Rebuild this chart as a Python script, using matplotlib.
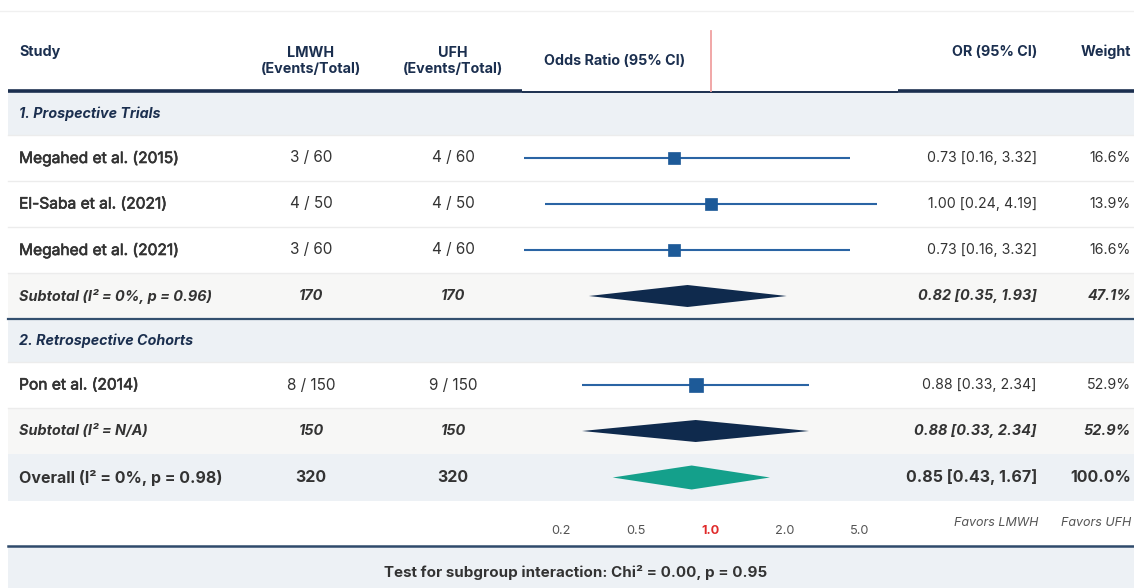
import matplotlib
matplotlib.use("Agg")
import matplotlib.pyplot as plt
import matplotlib.transforms as mtransforms
import matplotlib.patheffects as pe
from matplotlib.patches import Rectangle

plt.rcParams['font.family'] = ['Inter', 'DejaVu Sans']

# ---------------- data ----------------
group_labels = ["1. Prospective Trials", "2. Retrospective Cohorts"]
studies = ["Megahed et al. (2015)", "El-Saba et al. (2021)", "Megahed et al. (2021)", "Pon et al. (2014)"]
study_group = [0, 0, 0, 1]
lmwh_events = [3, 4, 3, 8]
lmwh_total = [60, 50, 60, 150]
ufh_events = [4, 4, 4, 9]
ufh_total = [60, 50, 60, 150]
or_est = [0.73, 1.00, 0.73, 0.88]
ci_lo = [0.16, 0.24, 0.16, 0.33]
ci_hi = [3.32, 4.19, 3.32, 2.34]
weights = [16.6, 13.9, 16.6, 52.9]

sub_labels = ["Subtotal (I\u00b2 = 0%, p = 0.96)", "Subtotal (I\u00b2 = N/A)"]
sub_n_lmwh = [170, 150]
sub_n_ufh = [170, 150]
sub_or = [0.82, 0.88]
sub_lo = [0.35, 0.33]
sub_hi = [1.93, 2.34]
sub_weight = [47.1, 52.9]

overall_label = "Overall (I\u00b2 = 0%, p = 0.98)"
overall_n_lmwh = 320
overall_n_ufh = 320
overall_or = 0.85
overall_lo = 0.43
overall_hi = 1.67
overall_weight = 100.0

tick_values = [0.2, 0.5, 1.0, 2.0, 5.0]
tick_labels = ["0.2", "0.5", "1.0", "2.0", "5.0"]
favors_left = "Favors LMWH"
favors_right = "Favors UFH"
footer_text = "Test for subgroup interaction: Chi\u00b2 = 0.00, p = 0.95"

# ---------------- style ----------------
W, H = 1134, 588
NAVY = "#1b2f4f"
TEXT = "#333333"
SECTION_BG = "#edf1f5"
SUB_BG = "#f7f7f6"
SEP = "#ececec"
BLUE_LINE = "#2a64a4"
BLUE_SQ = "#1d5a98"
DIAMOND = "#0f2a4d"
TEAL = "#14a08b"
RED = "#e02a2a"

fig = plt.figure(figsize=(W / 100, H / 100), dpi=100)
tab = fig.add_axes([0, 0, 1, 1])
tab.set_xlim(0, W)
tab.set_ylim(H, 0)
tab.axis('off')

PLOT_L, PLOT_R = 524, 897
fa = fig.add_axes([PLOT_L / W, 0, (PLOT_R - PLOT_L) / W, 1])
fa.set_xscale('log')
fa.set_xlim(tick_values[0], tick_values[-1])
fa.set_ylim(H, 0)
fa.axis('off')
fa.patch.set_alpha(0)

X_LEFT = 8
X_STUDY = 19
X_LMWH = 311
X_UFH = 453
X_OR = 1037
X_W = 1131
FS_NAME = 11.2
FS_NUM = 10.2
medium = [pe.withStroke(linewidth=0.45, foreground=TEXT)]

# ---------------- build rows ----------------
rows = []
for g, glabel in enumerate(group_labels):
    rows.append(("section", g))
    for i in range(len(studies)):
        if study_group[i] == g:
            rows.append(("study", i))
    rows.append(("subtotal", g))
rows.append(("overall", None))

heights = {"section": 43, "study": 46, "subtotal": 46, "overall": 47}
y = 92
layout = []
for kind, idx in rows:
    h = heights[kind]
    layout.append((kind, idx, y, y + h))
    y += h

# header
tab.plot([0, W], [11, 11], color="#f0f0f0", lw=1)
hdr_kw = dict(color=NAVY, fontsize=10.3, fontweight='bold', va='center')
tab.text(X_STUDY, 52, "Study", ha='left', **hdr_kw)
tab.text(X_LMWH, 61, "LMWH\n(Events/Total)", ha='center', linespacing=1.2, **hdr_kw)
tab.text(X_UFH, 61, "UFH\n(Events/Total)", ha='center', linespacing=1.2, **hdr_kw)
tab.text(544, 61, "Odds Ratio (95% CI)", ha='left', **hdr_kw)
tab.text(X_OR, 52, "OR (95% CI)", ha='right', **hdr_kw)
tab.text(X_W, 52, "Weight", ha='right', **hdr_kw)
fa.plot([1.0, 1.0], [31, 91], color="#f0a0a0", lw=1.3, clip_on=False)

for kind, idx, y0, y1 in layout:
    yc = (y0 + y1) / 2
    if kind == "section":
        tab.add_patch(Rectangle((X_LEFT, y0), W - X_LEFT, y1 - y0, color=SECTION_BG, lw=0, zorder=0))
        tab.text(X_STUDY, yc, group_labels[idx], ha='left', va='center', color=NAVY,
                 fontsize=10.3, fontweight='bold', style='italic')
    elif kind == "study":
        i = idx
        tab.text(X_STUDY, yc, studies[i], ha='left', va='center', color=TEXT, fontsize=FS_NAME,
                 path_effects=medium)
        tab.text(X_LMWH, yc, f"{lmwh_events[i]} / {lmwh_total[i]}", ha='center', va='center', color=TEXT, fontsize=11)
        tab.text(X_UFH, yc, f"{ufh_events[i]} / {ufh_total[i]}", ha='center', va='center', color=TEXT, fontsize=11)
        tab.text(X_OR, yc, f"{or_est[i]:.2f} [{ci_lo[i]:.2f}, {ci_hi[i]:.2f}]", ha='right', va='center', color=TEXT, fontsize=FS_NUM)
        tab.text(X_W, yc, f"{weights[i]:.1f}%", ha='right', va='center', color=TEXT, fontsize=FS_NUM)
        fa.plot([ci_lo[i], ci_hi[i]], [yc, yc], color=BLUE_LINE, lw=1.5, solid_capstyle='butt', zorder=3)
        msize = (10.5 + 0.085 * weights[i]) * 0.72
        fa.plot([or_est[i]], [yc], marker='s', ms=msize, color=BLUE_SQ, mec=BLUE_SQ, mew=0.5, zorder=4)
    elif kind == "subtotal":
        g = idx
        tab.add_patch(Rectangle((X_LEFT, y0), W - X_LEFT, y1 - y0, color=SUB_BG, lw=0, zorder=0))
        kw = dict(va='center', color=TEXT, fontsize=10.4, fontweight='bold', style='italic')
        tab.text(X_STUDY, yc, sub_labels[g], ha='left', **kw)
        tab.text(X_LMWH, yc, f"{sub_n_lmwh[g]}", ha='center', **kw)
        tab.text(X_UFH, yc, f"{sub_n_ufh[g]}", ha='center', **kw)
        tab.text(X_OR, yc, f"{sub_or[g]:.2f} [{sub_lo[g]:.2f}, {sub_hi[g]:.2f}]", ha='right', **kw)
        tab.text(X_W, yc, f"{sub_weight[g]:.1f}%", ha='right', **kw)
        hh = 11
        fa.fill([sub_lo[g], sub_or[g], sub_hi[g], sub_or[g]], [yc, yc - hh, yc, yc + hh],
                color=DIAMOND, lw=0, zorder=4)
    else:
        tab.add_patch(Rectangle((X_LEFT, y0), W - X_LEFT, y1 - y0, color=SECTION_BG, lw=0, zorder=0))
        kw = dict(va='center', color=TEXT, fontsize=11.5, fontweight='bold')
        tab.text(X_STUDY, yc, overall_label, ha='left', **kw)
        tab.text(X_LMWH, yc, f"{overall_n_lmwh}", ha='center', **kw)
        tab.text(X_UFH, yc, f"{overall_n_ufh}", ha='center', **kw)
        tab.text(X_OR, yc, f"{overall_or:.2f} [{overall_lo:.2f}, {overall_hi:.2f}]", ha='right', **kw)
        tab.text(X_W, yc, f"{overall_weight:.1f}%", ha='right', **kw)
        hh = 12
        fa.fill([overall_lo, overall_or, overall_hi, overall_or], [yc, yc - hh, yc, yc + hh],
                color=TEAL, lw=0, zorder=4)

# separators
for kind, idx, y0, y1 in layout:
    if kind in ("study", "section"):
        tab.plot([X_LEFT, W], [y1, y1], color=SEP, lw=1, zorder=1)
for kind, idx, y0, y1 in layout:
    if kind == "subtotal" and idx == 0:
        tab.plot([X_LEFT, W], [y1, y1], color="#34506f", lw=1.6, zorder=2)

# header bottom line
tab.plot([X_LEFT, PLOT_L - 2], [91, 91], color=NAVY, lw=2.6, solid_capstyle='butt', zorder=2)
tab.plot([PLOT_L - 2, PLOT_R + 1], [91.5, 91.5], color=NAVY, lw=1.4, solid_capstyle='butt', zorder=2)
tab.plot([PLOT_R + 1, W], [91, 91], color=NAVY, lw=2.6, solid_capstyle='butt', zorder=2)

# axis labels row
trans = mtransforms.blended_transform_factory(fa.transAxes, fa.transData)
n = len(tick_values)
for k, (tv, tl) in enumerate(zip(tick_values, tick_labels)):
    is_ref = (tv == 1.0)
    fa.text((k + 0.5) / n, 531, tl, transform=trans, ha='center', va='center',
            fontsize=9.2, color=RED if is_ref else "#555555",
            fontweight='bold' if is_ref else 'normal')
tab.text(X_OR + 1, 523, favors_left, ha='right', va='center', fontsize=9, style='italic', color="#555555")
tab.text(X_W, 523, favors_right, ha='right', va='center', fontsize=9, style='italic', color="#555555")

# footer
tab.plot([X_LEFT, W], [545.5, 545.5], color="#2f4a6b", lw=1.8, zorder=2)
tab.add_patch(Rectangle((X_LEFT, 546.5), W - X_LEFT, H - 546.5, color=SECTION_BG, lw=0, zorder=0))
tab.text(576, 572, footer_text, ha='center', va='center', fontsize=10.9, fontweight='bold', color=TEXT)

fig.savefig("out.png", dpi=100)
